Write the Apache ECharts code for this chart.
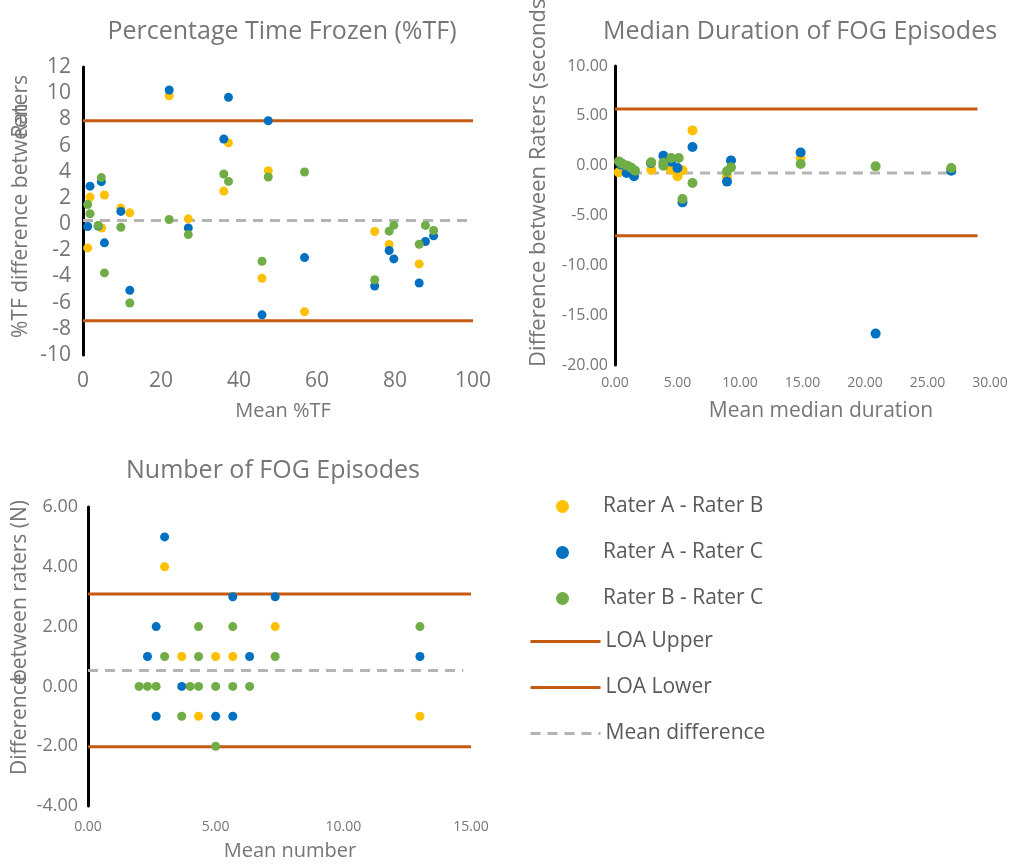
<!DOCTYPE html>
<html><head><meta charset="utf-8">
<script src="https://cdn.jsdelivr.net/npm/echarts@6/dist/echarts.min.js"></script>
<style>html,body{margin:0;padding:0;background:#fff}#c{width:1019px;height:866px}</style>
</head><body><div id="c"></div>
<script>
// ---- Panel 1: Percentage Time Frozen (%TF) ----
const tfAB = [[22.1,9.8],[37.3,6.2],[36.1,2.52],[27.0,0.4],[1.8,2.06],[1.2,-1.82],[5.5,2.22],[4.8,-0.3],[9.7,1.22],[12.0,0.86],[47.5,4.08],[45.9,-4.14],[56.8,-6.7],[74.8,-0.57],[78.5,-1.56],[86.2,-3.04]];
const tfAC = [[22.1,10.24],[37.3,9.68],[36.1,6.5],[27.0,-0.29],[1.8,2.9],[1.2,-0.18],[3.9,-0.15],[4.7,3.24],[5.5,-1.43],[9.7,0.97],[12.0,-5.06],[47.5,7.89],[45.9,-6.93],[56.8,-2.56],[74.8,-4.73],[78.5,-2.02],[79.7,-2.66],[89.9,-0.9],[87.8,-1.33],[86.2,-4.5]];
const tfBC = [[36.1,3.83],[37.3,3.26],[22.1,0.35],[27.0,-0.8],[1.2,1.5],[1.8,0.79],[4.7,3.55],[3.9,-0.1],[5.5,-3.73],[9.7,-0.24],[12.0,-6.03],[47.5,3.6],[56.8,3.98],[45.9,-2.84],[74.8,-4.25],[78.5,-0.54],[79.7,-0.08],[87.8,-0.1],[89.9,-0.49],[86.2,-1.54]];
const tfLoa = {upper: 7.89, lower: -7.39, mean: 0.27, loaEnd: 100, meanEnd: 100};

// ---- Panel 2: Median Duration of FOG Episodes ----
const durAB = [[0.3,-0.67],[0.8,-0.4],[2.9,-0.4],[4.45,-0.4],[5.0,-1.07],[5.4,-0.47],[6.2,3.54],[8.96,-1.1],[14.85,0.77],[26.9,-0.3]];
const durAC = [[0.5,0.1],[0.93,-0.73],[1.52,-1.07],[2.88,0.27],[3.87,1.0],[4.5,0.4],[5.0,-0.23],[5.4,-3.68],[6.2,1.87],[8.96,-1.6],[9.28,0.53],[14.85,1.33],[20.85,-16.85],[26.9,-0.5]];
const durBC = [[0.32,0.43],[0.6,0.2],[1.0,0.0],[1.3,-0.2],[1.6,-0.5],[2.9,0.35],[3.87,0.3],[3.87,0.0],[4.5,0.77],[5.1,0.77],[5.4,-3.35],[6.2,-1.74],[8.96,-0.57],[9.28,-0.17],[14.85,0.17],[20.85,-0.07],[26.9,-0.23]];
const durLoa = {upper: 5.69, lower: -7.02, mean: -0.73, loaEnd: 29, meanEnd: 27.3};

// ---- Panel 3: Number of FOG Episodes ----
const numAB = [[3.0,4],[7.33,2],[3.67,1],[5.0,1],[5.67,1],[4.33,-1],[13.0,-1]];
const numAC = [[3.0,5],[5.67,3],[7.33,3],[2.67,2],[2.33,1],[6.33,1],[13.0,1],[3.67,0],[2.67,-1],[5.0,-1],[5.67,-1]];
const numBC = [[4.33,2],[5.67,2],[13.0,2],[3.0,1],[4.33,1],[7.33,1],[2.0,0],[2.33,0],[2.67,0],[4.0,0],[4.33,0],[5.0,0],[5.67,0],[6.33,0],[3.67,-1],[5.0,-2]];
const numLoa = {upper: 3.09, lower: -2.02, mean: 0.53, loaEnd: 15, meanEnd: 14.7};

const seriesNames = ['Rater A - Rater B','Rater A - Rater C','Rater B - Rater C'];
const lineNames = ['LOA Upper','LOA Lower','Mean difference'];
const titles = ['Percentage Time Frozen (%TF)','Median Duration of FOG Episodes','Number of FOG Episodes'];
const xNames = ['Mean %TF','Mean median duration','Mean number'];

const COL = ['#FFC000','#0070C0','#70AD47'];
const ORANGE = '#C55A11', GRAYDASH = '#B4B4B4', TXT = '#767676';
const FONT = 'Open Sans';

const panels = [
  {data:[tfAB,tfAC,tfBC], loa:tfLoa, size:9},
  {data:[durAB,durAC,durBC], loa:durLoa, size:10},
  {data:[numAB,numAC,numBC], loa:numLoa, size:9}
];

const series = [];
panels.forEach((p, gi) => {
  const L = p.loa;
  series.push({name:lineNames[0], type:'line', xAxisIndex:gi, yAxisIndex:gi, symbol:'none', z:1,
    lineStyle:{color:ORANGE,width:3}, itemStyle:{color:ORANGE}, data:[[0,L.upper],[L.loaEnd,L.upper]], silent:true});
  series.push({name:lineNames[1], type:'line', xAxisIndex:gi, yAxisIndex:gi, symbol:'none', z:1,
    lineStyle:{color:ORANGE,width:3}, itemStyle:{color:ORANGE}, data:[[0,L.lower],[L.loaEnd,L.lower]], silent:true});
  series.push({name:lineNames[2], type:'line', xAxisIndex:gi, yAxisIndex:gi, symbol:'none', z:1,
    lineStyle:{color:GRAYDASH,width:3,type:[10,7]}, itemStyle:{color:GRAYDASH}, data:[[0,L.mean],[L.meanEnd,L.mean]], silent:true});
  p.data.forEach((d, si) => {
    series.push({name:seriesNames[si], type:'scatter', xAxisIndex:gi, yAxisIndex:gi, z:3,
      symbolSize:p.size, itemStyle:{color:COL[si], opacity:1}, data:d});
  });
});

const grids = [
  {left:83, top:67, width:390, height:288},
  {left:615, top:66, width:375, height:299},
  {left:88, top:507, width:383, height:299}
];

function xAxis(gi, max, interval, fs, margin, dec){
  return {type:'value', gridIndex:gi, min:0, max:max, interval:interval,
    axisLine:{show:false,onZero:false}, axisTick:{show:false}, splitLine:{show:false},
    axisLabel:{color:TXT, fontSize:fs, fontFamily:FONT, margin:margin,
      formatter: v => dec ? v.toFixed(2) : String(v)}};
}
function yAxis(gi, min, max, interval, fs, margin, dec){
  return {type:'value', gridIndex:gi, min:min, max:max, interval:interval,
    axisLine:{show:true, onZero:false, lineStyle:{color:'#000', width:3}}, axisTick:{show:false}, splitLine:{show:false},
    axisLabel:{color:TXT, fontSize:fs, fontFamily:FONT, margin:margin,
      formatter: v => dec ? v.toFixed(2) : String(v)}};
}

function vText(x, y, text, align, size){
  return {type:'text', x:x, y:y, rotation:Math.PI/2, z:10,
    style:{text:text, fill:TXT, font:(size || 21) + 'px "Open Sans"', textAlign:align, textVerticalAlign:'middle'}};
}
function hText(x, y, text, size){
  return {type:'text', x:x, y:y, z:10,
    style:{text:text, fill:TXT, font:size + 'px "Open Sans"', textAlign:'center', textVerticalAlign:'middle'}};
}

const option = {
  backgroundColor:'#fff',
  animation:false,
  grid:grids,
  xAxis:[ xAxis(0,100,20,21,16,false), xAxis(1,30,5,14,11,true), xAxis(2,15,5,14,14,true) ],
  yAxis:[ yAxis(0,-10,12,2,21,12,false), yAxis(1,-20,10,5,16,7,true), yAxis(2,-4,6,2,18,10,true) ],
  legend:[
    {data:seriesNames, orient:'vertical', left:551, top:491, icon:'circle', itemWidth:13, itemHeight:13, itemGap:25,
      textStyle:{color:'#595959', fontSize:21, fontFamily:FONT, lineHeight:20, padding:[0,0,0,29]}},
    {data:lineNames, orient:'vertical', left:524, top:626, itemWidth:70, itemHeight:14, itemGap:25,
      itemStyle:{opacity:0}, lineStyle:{width:3},
      textStyle:{color:'#595959', fontSize:21, fontFamily:FONT, lineHeight:20, padding:[0,0,0,0]}}
  ],
  graphic:[
    hText(282, 32, titles[0], 25),
    hText(800, 32, titles[1], 25),
    hText(273, 471, titles[2], 25),
    hText(283, 411, xNames[0], 20),
    hText(821, 411, xNames[1], 21),
    hText(290, 851, xNames[2], 20),
    vText(21, 338, '%TF difference between', 'left'),
    vText(21, 75, 'Raters', 'right'),
    vText(539, 367, 'Difference between Raters (seconds)', 'left', 22),
    vText(20, 775, 'Difference', 'left'),
    vText(20, 500, 'between raters (N)', 'right')
  ],
  series:series
};

const chart = echarts.init(document.getElementById('c'), null, {renderer:'canvas'});
chart.setOption(option);
</script>
</body></html>
